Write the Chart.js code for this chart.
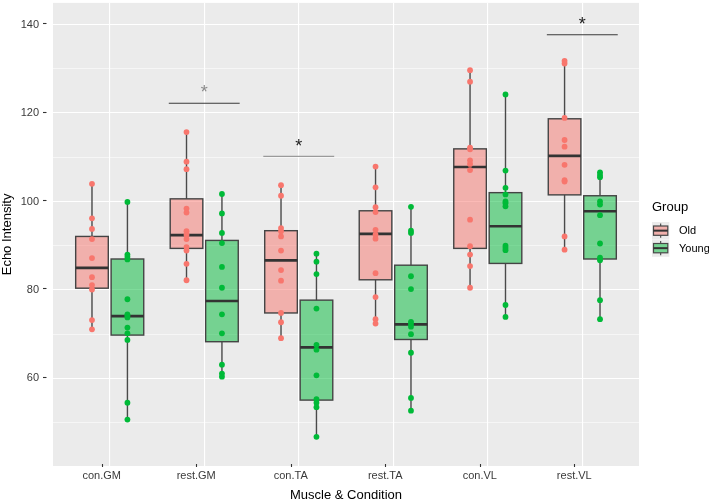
<!DOCTYPE html>
<html><head><meta charset="utf-8">
<script src="https://cdn.jsdelivr.net/npm/chart.js@4.4.1/dist/chart.umd.min.js"></script>
<style>html,body{margin:0;padding:0;background:#fff}#wrap{width:709px;height:503px;position:relative}</style>
</head><body><div id="wrap"><canvas id="c" width="709" height="503"></canvas></div>
<script>
const categories = ['con.GM','rest.GM','con.TA','rest.TA','con.VL','rest.VL'];
const groups = ['Old','Young'];
const yTicks = [50,60,70,80,90,100,110,120,130,140];

const oldPoints = [
 [104.0, 96.2, 93.8, 91.5, 87.2, 82.9, 81.1, 80.1, 73.2, 71.1],
 [115.7, 109.0, 107.3, 98.4, 97.5, 93.3, 92.5, 91.5, 89.7, 88.9, 85.9, 82.2],
 [103.7, 101.3, 94.0, 93.3, 92.1, 88.9, 84.5, 82.1, 74.8, 72.7, 69.1],
 [107.9, 103.2, 98.7, 97.6, 93.6, 92.5, 91.6, 83.8, 78.4, 73.4, 72.4],
 [129.7, 127.1, 112.2, 111.8, 109.3, 108.5, 107.1, 95.9, 89.9, 88.0, 85.4, 80.5],
 [131.8, 131.2, 118.9, 113.9, 112.4, 108.3, 104.8, 104.5, 92.1, 89.1]
];
const youngPoints = [
 [99.9, 88.0, 87.5, 86.9, 77.9, 74.5, 74.2, 73.8, 71.5, 70.2, 68.7, 54.5, 50.7],
 [101.7, 97.3, 92.9, 90.6, 85.2, 80.5, 74.5, 70.2, 63.1, 61.1, 60.4],
 [88.2, 86.4, 83.6, 75.8, 67.6, 66.5, 60.7, 55.3, 54.5, 53.5, 46.8],
 [98.8, 93.4, 92.9, 83.1, 80.2, 72.8, 72.3, 71.7, 70.0, 65.8, 55.6, 52.7],
 [124.2, 107.0, 103.1, 101.6, 100.0, 99.6, 98.9, 90.0, 89.5, 89.0, 76.6, 73.9],
 [106.6, 106.0, 105.5, 100.0, 99.3, 96.9, 90.5, 87.3, 86.7, 77.7, 73.4]
];

// box statistics
const oldMin    = [71.1, 82.2, 69.1, 72.4, 80.5, 89.1];
const oldQ1     = [80.4, 89.4, 74.8, 82.3, 89.4, 101.5];
const oldMedian = [85.0, 92.4, 86.7, 92.7, 107.8, 110.3];
const oldQ3     = [92.1, 100.6, 93.4, 97.9, 111.9, 118.7];
const oldMax    = [104.0, 115.7, 103.7, 107.9, 129.7, 131.8];

const youngMin    = [50.7, 60.4, 46.8, 52.7, 73.9, 73.4];
const youngQ1     = [69.8, 68.3, 55.1, 68.8, 86.0, 87.0];
const youngMedian = [74.1, 77.5, 67.0, 72.2, 94.4, 97.8];
const youngQ3     = [87.0, 91.2, 77.7, 85.6, 102.0, 101.3];
const youngMax    = [99.9, 101.7, 88.2, 98.8, 124.2, 106.6];

// significance marks
const sigCategories = ['rest.GM','con.TA','rest.VL'];
const sigLineValue  = [122.2, 110.2, 137.7];
const sigStarValue  = [125.7, 113.6, 141.2];
const sigLabels     = ['*','*','*'];

const pointColors = ['#F8766D','#00BA38'];
const fillColors = ['rgba(248,118,109,0.5)','rgba(0,186,56,0.5)'];
const dodge = [-0.1875, 0.1875];
const boxHalf = 0.1725;

const stats = [
  {min: oldMin, q1: oldQ1, med: oldMedian, q3: oldQ3, max: oldMax},
  {min: youngMin, q1: youngQ1, med: youngMedian, q3: youngQ3, max: youngMax}
];
const pointSets = [oldPoints, youngPoints];

const datasets = groups.map((g, gi) => ({
  label: g,
  data: pointSets[gi].flatMap((vals, ci) => vals.map(v => ({x: ci + 1 + dodge[gi], y: v}))),
  backgroundColor: pointColors[gi],
  borderWidth: 0,
  pointRadius: 2.9,
  pointHoverRadius: 2.9
}));

function line(ctx, x1, y1, x2, y2){ ctx.beginPath(); ctx.moveTo(x1,y1); ctx.lineTo(x2,y2); ctx.stroke(); }

const plotPlugin = {
  id: 'ggbox',
  beforeDraw(chart){
    const {ctx, chartArea: a} = chart;
    ctx.save();
    ctx.fillStyle = '#EBEBEB';
    ctx.fillRect(a.left, a.top, a.right - a.left, a.bottom - a.top);
    ctx.restore();
  },
  beforeDatasetsDraw(chart){
    const {ctx, scales: {x, y}} = chart;
    ctx.save();
    groups.forEach((g, gi) => {
      const s = stats[gi];
      categories.forEach((c, i) => {
        const cx = i + 1 + dodge[gi];
        const xl = x.getPixelForValue(cx - boxHalf), xr = x.getPixelForValue(cx + boxHalf), xc = x.getPixelForValue(cx);
        const yMin = y.getPixelForValue(s.min[i]), yQ1 = y.getPixelForValue(s.q1[i]);
        const yMed = y.getPixelForValue(s.med[i]), yQ3 = y.getPixelForValue(s.q3[i]);
        const yMax = y.getPixelForValue(s.max[i]);
        ctx.strokeStyle = '#4a4a4a'; ctx.lineWidth = 1.4;
        line(ctx, xc, yMax, xc, yQ3);
        line(ctx, xc, yQ1, xc, yMin);
        ctx.fillStyle = fillColors[gi];
        ctx.fillRect(xl, yQ3, xr - xl, yQ1 - yQ3);
        ctx.strokeStyle = '#444444'; ctx.lineWidth = 1.4;
        ctx.strokeRect(xl, yQ3, xr - xl, yQ1 - yQ3);
        ctx.strokeStyle = '#333333'; ctx.lineWidth = 2.7;
        line(ctx, xl, yMed, xr, yMed);
      });
    });
    ctx.restore();
  },
  afterDatasetsDraw(chart){
    const {ctx, scales: {x, y}} = chart;
    ctx.save();
    const lineColors = ['#3a3a3a','#9a9a9a','#3a3a3a'];
    const starColors = ['#8a8a8a','#222222','#222222'];
    sigCategories.forEach((c, k) => {
      const ci = categories.indexOf(c) + 1;
      const x1 = x.getPixelForValue(ci - 0.375), x2 = x.getPixelForValue(ci + 0.375);
      const yl = y.getPixelForValue(sigLineValue[k]);
      ctx.strokeStyle = lineColors[k]; ctx.lineWidth = 1.1;
      line(ctx, x1, yl, x2, yl);
      ctx.fillStyle = starColors[k];
      ctx.font = '18px "Liberation Sans", Arial, sans-serif';
      ctx.textAlign = 'center'; ctx.textBaseline = 'alphabetic';
      ctx.fillText(sigLabels[k], x.getPixelForValue(ci), y.getPixelForValue(sigStarValue[k]) + 10.3);
    });
    ctx.restore();
  },
  afterDraw(chart){
    const {ctx, scales: {x, y}, chartArea: a} = chart;
    ctx.save();
    // tick marks (offset like the reference)
    ctx.strokeStyle = '#333'; ctx.lineWidth = 1.1;
    categories.forEach((c, i) => {
      const px = Math.round(x.getPixelForValue(i + 1) - 8) + 0.5;
      line(ctx, px, a.bottom - 2, px, a.bottom + 1);
    });
    yTicks.filter(v => v % 20 === 0).forEach(v => {
      const py = Math.round(y.getPixelForValue(v) - 1.5) + 0.5;
      line(ctx, 43, py, 46.5, py);
    });
    // legend
    ctx.fillStyle = '#000';
    ctx.font = '13px "Liberation Sans", Arial, sans-serif';
    ctx.textAlign = 'left'; ctx.textBaseline = 'middle';
    ctx.fillText('Group', 652, 207);
    const keyTop = [222, 239.5];
    groups.forEach((g, gi) => {
      const kx = 652, ky = keyTop[gi], ks = 17.3;
      ctx.fillStyle = '#EBEBEB';
      ctx.fillRect(kx, ky, ks, ks);
      const xc = kx + ks / 2;
      ctx.strokeStyle = '#505050'; ctx.lineWidth = 1.2;
      line(ctx, xc, ky + 1.5, xc, ky + ks - 1.5);
      const bt = ky + 4, bh = ks - 8;
      ctx.fillStyle = '#EBEBEB';
      ctx.fillRect(kx + 1.5, bt, ks - 3, bh);
      ctx.fillStyle = fillColors[gi];
      ctx.fillRect(kx + 1.5, bt, ks - 3, bh);
      ctx.strokeStyle = '#484848'; ctx.lineWidth = 1.2;
      ctx.strokeRect(kx + 1.5, bt, ks - 3, bh);
      ctx.strokeStyle = '#333'; ctx.lineWidth = 2;
      line(ctx, kx + 1.5, ky + ks / 2, kx + ks - 1.5, ky + ks / 2);
      ctx.fillStyle = '#000';
      ctx.font = '11px "Liberation Sans", Arial, sans-serif';
      ctx.fillText(g, 679, ky + ks / 2 + 0.5);
    });
    ctx.restore();
  }
};

new Chart(document.getElementById('c'), {
  type: 'scatter',
  data: { datasets },
  plugins: [plotPlugin],
  options: {
    responsive: false,
    animation: false,
    layout: { padding: { left: 0, right: 70, top: 0, bottom: 0 } },
    plugins: { legend: { display: false }, tooltip: { enabled: false } },
    scales: {
      x: {
        type: 'linear', min: 0.4, max: 6.6,
        afterBuildTicks: s => { s.ticks = categories.map((c, i) => ({ value: i + 1 })); },
        afterFit: s => { s.height = 37; s.paddingLeft = 0; s.paddingRight = 0; },
        ticks: {
          callback: v => categories[Math.round(v) - 1],
          font: { family: '"Liberation Sans", Arial, sans-serif', size: 11 },
          color: '#3a3a3a', padding: 3, labelOffset: -8, autoSkip: false, maxRotation: 0
        },
        grid: { color: '#ffffff', lineWidth: 1.1, drawTicks: false },
        border: { display: false },
        title: { display: true, text: 'Muscle & Condition', color: '#000',
          font: { family: '"Liberation Sans", Arial, sans-serif', size: 13 }, padding: { top: 0, bottom: 0 } }
      },
      y: {
        type: 'linear', min: 40.2, max: 144.9,
        afterBuildTicks: s => { s.ticks = yTicks.map(v => ({ value: v })); },
        afterFit: s => { s.width = 53; s.paddingTop = 0; s.paddingBottom = 0; },
        ticks: {
          callback: v => (v % 20 === 0 ? String(v) : ''),
          font: { family: '"Liberation Sans", Arial, sans-serif', size: 11 },
          color: '#3a3a3a', padding: 14
        },
        grid: { color: '#ffffff', lineWidth: ctx => (ctx.tick && ctx.tick.value % 20 === 0 ? 1.1 : 0.55), drawTicks: false },
        border: { display: false },
        title: { display: true, text: 'Echo Intensity', color: '#000',
          font: { family: '"Liberation Sans", Arial, sans-serif', size: 13 }, padding: { top: 0, bottom: 0 } }
      }
    }
  }
});
</script></body></html>
